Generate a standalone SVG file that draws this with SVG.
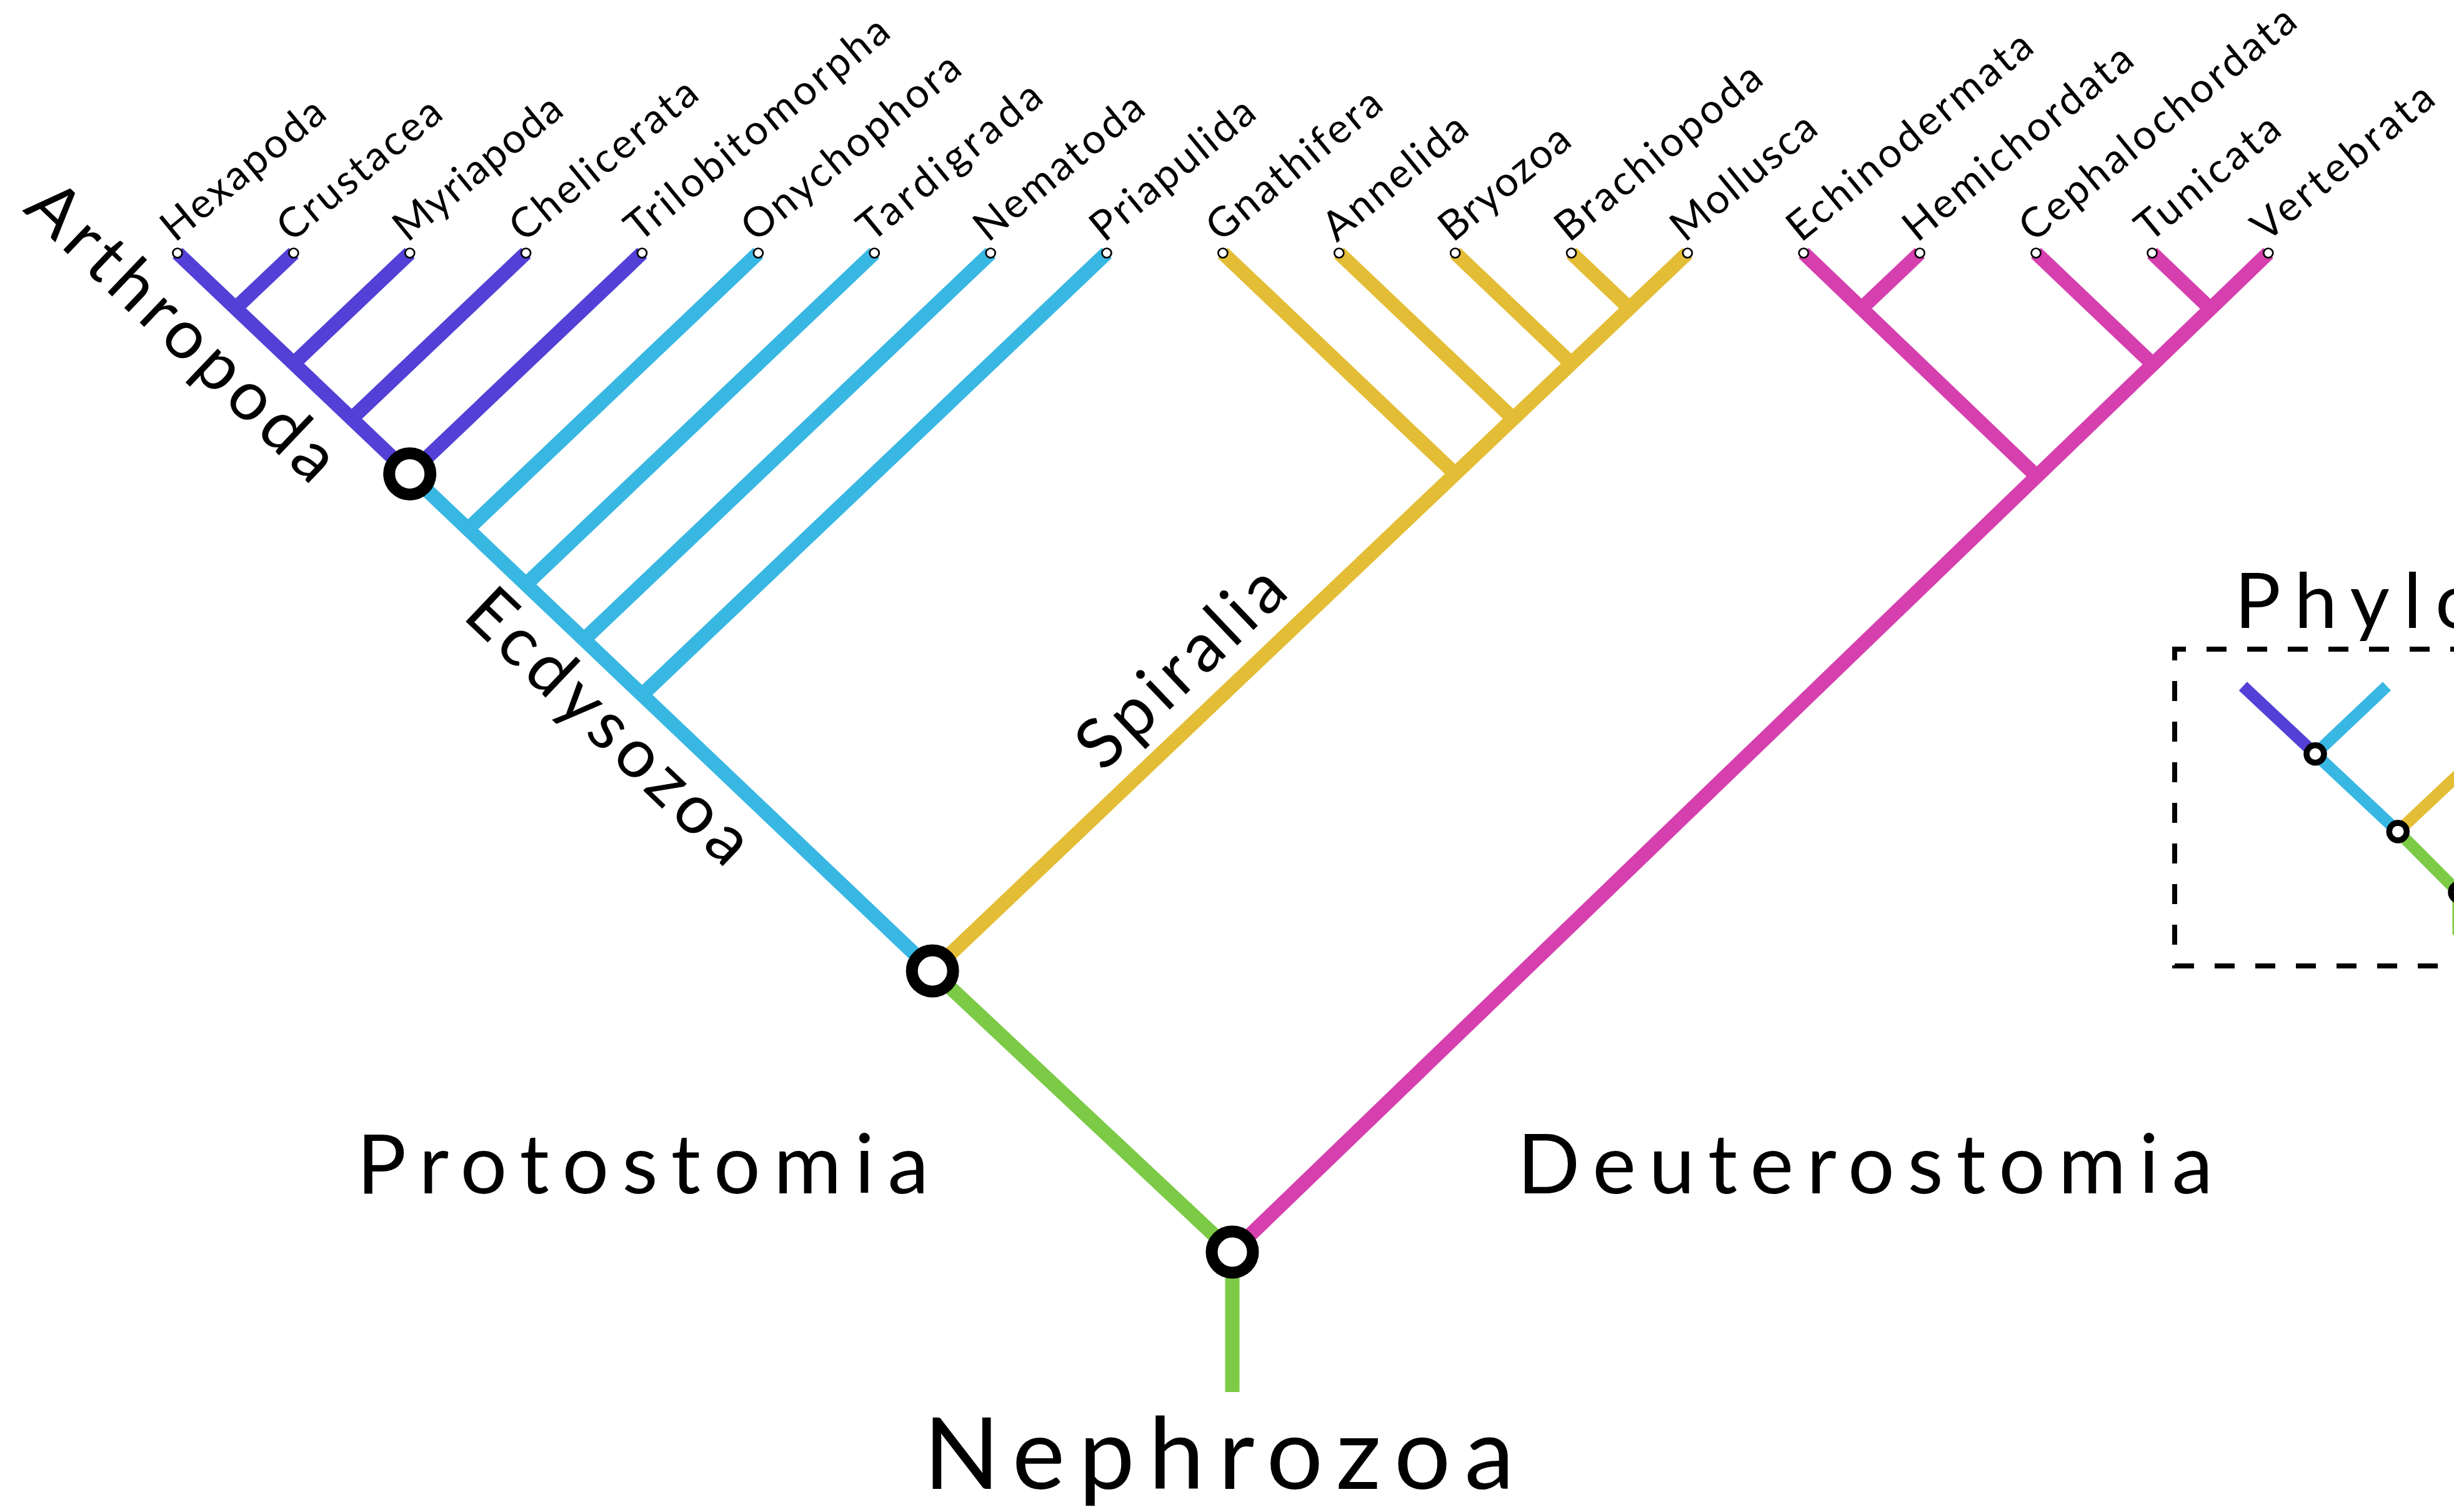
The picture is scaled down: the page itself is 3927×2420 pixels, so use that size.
<svg xmlns="http://www.w3.org/2000/svg" width="3927" height="2420" viewBox="0 0 3927 2420">
<style>
.br{fill:none;stroke-width:23;stroke-linecap:butt;stroke-linejoin:round}
.ib{fill:none;stroke-width:19;stroke-linecap:butt;stroke-linejoin:round}
.pu{stroke:#5340D6}.cy{stroke:#38B7E3}.ye{stroke:#E3BD35}.ma{stroke:#D63FAE}.gr{stroke:#7CCA45}
.tip{fill:#fff;stroke:#000;stroke-width:2.7}
.node{fill:#fff;stroke:#000;stroke-width:19}
.inode{fill:#fff;stroke:#000;stroke-width:9.5}
text{font-family:Lato,"Liberation Sans",sans-serif;fill:#000}
.leaf{font-size:66px}
.clade{font-size:110px}
.big{font-size:132px}
.root{font-size:160px}
</style>
<rect width="3927" height="2420" fill="#fff"/>
<g id="connectors">
  <line class="br pu" x1="284" y1="405" x2="655.75" y2="758.5"/>
  <line class="br pu" x1="469.9" y1="405" x2="376.95" y2="493.4"/>
  <line class="br pu" x1="655.8" y1="405" x2="469.9" y2="581.8"/>
  <line class="br pu" x1="841.6" y1="405" x2="562.8" y2="670.1"/>
  <line class="br pu" x1="1027.5" y1="405" x2="655.75" y2="758.5"/>
  <line class="br cy" x1="655.75" y1="758.5" x2="1492.2" y2="1554"/>
  <line class="br cy" x1="1213.4" y1="405" x2="748.7" y2="846.9"/>
  <line class="br cy" x1="1399.3" y1="405" x2="841.65" y2="935.3"/>
  <line class="br cy" x1="1585.2" y1="405" x2="934.6" y2="1023.7"/>
  <line class="br cy" x1="1771" y1="405" x2="1027.5" y2="1112.1"/>
  <line class="br ye" x1="2700.4" y1="405" x2="1492.2" y2="1554"/>
  <line class="br ye" x1="1956.9" y1="405" x2="2328.7" y2="758.5"/>
  <line class="br ye" x1="2142.8" y1="405" x2="2421.6" y2="670.1"/>
  <line class="br ye" x1="2328.7" y1="405" x2="2514.6" y2="581.8"/>
  <line class="br ye" x1="2514.6" y1="405" x2="2607.5" y2="493.4"/>
  <line class="br gr" x1="1492.2" y1="1554" x2="1972" y2="2004"/>
  <line class="br gr" x1="1972" y1="2004" x2="1972" y2="2228"/>
  <line class="br ma" x1="3629.8" y1="405" x2="1972" y2="2004"/>
  <line class="br ma" x1="2886.3" y1="405" x2="3260" y2="763"/>
  <line class="br ma" x1="3072.2" y1="405" x2="2979.25" y2="493.4"/>
  <line class="br ma" x1="3258.1" y1="405" x2="3445" y2="583"/>
  <line class="br ma" x1="3444" y1="405" x2="3537" y2="494"/>
</g>
<g id="node-Arthropoda"><circle class="node" cx="655.75" cy="758.5" r="33"/>
  <text class="clade" text-anchor="middle" textLength="640" lengthAdjust="spacing" x="0" y="38" transform="translate(293,530) rotate(43.6)">Arthropoda</text></g>
<g id="node-Ecdysozoa"><text class="clade" text-anchor="middle" textLength="585" lengthAdjust="spacing" x="0" y="38" transform="translate(976,1162) rotate(43.6)">Ecdysozoa</text></g>
<g id="node-Spiralia"><text class="clade" text-anchor="middle" textLength="415" lengthAdjust="spacing" x="0" y="38" transform="translate(1889,1067) rotate(-43.6)">Spiralia</text></g>
<g id="node-Protostomia"><circle class="node" cx="1492.2" cy="1554" r="33"/>
  <text class="big" x="571" y="1910" textLength="915" lengthAdjust="spacing">Protostomia</text></g>
<g id="node-Deuterostomia"><text class="big" x="2428" y="1910" textLength="1113" lengthAdjust="spacing">Deuterostomia</text></g>
<g id="node-Nephrozoa"><circle class="node" cx="1972" cy="2004" r="33"/>
  <text class="root" x="1478" y="2383" textLength="945" lengthAdjust="spacing">Nephrozoa</text></g>
<g id="leaves">
  <g id="leaf-Hexapoda"><circle class="tip" cx="284" cy="405" r="7.5"/><text class="leaf" textLength="318" lengthAdjust="spacing" transform="translate(280,389) rotate(-39.3)">Hexapoda</text></g>
  <g id="leaf-Crustacea"><circle class="tip" cx="469.9" cy="405" r="7.5"/><text class="leaf" textLength="318" lengthAdjust="spacing" transform="translate(466,389) rotate(-39.3)">Crustacea</text></g>
  <g id="leaf-Myriapoda"><circle class="tip" cx="655.8" cy="405" r="7.5"/><text class="leaf" textLength="327" lengthAdjust="spacing" transform="translate(652,389) rotate(-39.3)">Myriapoda</text></g>
  <g id="leaf-Chelicerata"><circle class="tip" cx="841.6" cy="405" r="7.5"/><text class="leaf" textLength="367" lengthAdjust="spacing" transform="translate(838,389) rotate(-39.3)">Chelicerata</text></g>
  <g id="leaf-Trilobitomorpha"><circle class="tip" cx="1027.5" cy="405" r="7.5"/><text class="leaf" textLength="524" lengthAdjust="spacing" transform="translate(1023,389) rotate(-39.3)">Trilobitomorpha</text></g>
  <g id="leaf-Onychophora"><circle class="tip" cx="1213.4" cy="405" r="7.5"/><text class="leaf" textLength="431" lengthAdjust="spacing" transform="translate(1209,389) rotate(-39.3)">Onychophora</text></g>
  <g id="leaf-Tardigrada"><circle class="tip" cx="1399.3" cy="405" r="7.5"/><text class="leaf" textLength="359" lengthAdjust="spacing" transform="translate(1395,389) rotate(-39.3)">Tardigrada</text></g>
  <g id="leaf-Nematoda"><circle class="tip" cx="1585.2" cy="405" r="7.5"/><text class="leaf" textLength="330" lengthAdjust="spacing" transform="translate(1581,389) rotate(-39.3)">Nematoda</text></g>
  <g id="leaf-Priapulida"><circle class="tip" cx="1771" cy="405" r="7.5"/><text class="leaf" textLength="319" lengthAdjust="spacing" transform="translate(1767,389) rotate(-39.3)">Priapulida</text></g>
  <g id="leaf-Gnathifera"><circle class="tip" cx="1956.9" cy="405" r="7.5"/><text class="leaf" textLength="341" lengthAdjust="spacing" transform="translate(1953,389) rotate(-39.3)">Gnathifera</text></g>
  <g id="leaf-Annelida"><circle class="tip" cx="2142.8" cy="405" r="7.5"/><text class="leaf" textLength="278" lengthAdjust="spacing" transform="translate(2139,389) rotate(-39.3)">Annelida</text></g>
  <g id="leaf-Bryozoa"><circle class="tip" cx="2328.7" cy="405" r="7.5"/><text class="leaf" textLength="250" lengthAdjust="spacing" transform="translate(2325,389) rotate(-39.3)">Bryozoa</text></g>
  <g id="leaf-Brachiopoda"><circle class="tip" cx="2514.6" cy="405" r="7.5"/><text class="leaf" textLength="406" lengthAdjust="spacing" transform="translate(2511,389) rotate(-39.3)">Brachiopoda</text></g>
  <g id="leaf-Mollusca"><circle class="tip" cx="2700.4" cy="405" r="7.5"/><text class="leaf" textLength="280" lengthAdjust="spacing" transform="translate(2696,389) rotate(-39.3)">Mollusca</text></g>
  <g id="leaf-Echinodermata"><circle class="tip" cx="2886.3" cy="405" r="7.5"/><text class="leaf" textLength="486" lengthAdjust="spacing" transform="translate(2882,389) rotate(-39.3)">Echinodermata</text></g>
  <g id="leaf-Hemichordata"><circle class="tip" cx="3072.2" cy="405" r="7.5"/><text class="leaf" textLength="453" lengthAdjust="spacing" transform="translate(3068,389) rotate(-39.3)">Hemichordata</text></g>
  <g id="leaf-Cephalochordata"><circle class="tip" cx="3258.1" cy="405" r="7.5"/><text class="leaf" textLength="550" lengthAdjust="spacing" transform="translate(3254,389) rotate(-39.3)">Cephalochordata</text></g>
  <g id="leaf-Tunicata"><circle class="tip" cx="3444" cy="405" r="7.5"/><text class="leaf" textLength="277" lengthAdjust="spacing" transform="translate(3440,389) rotate(-39.3)">Tunicata</text></g>
  <g id="leaf-Vertebrata"><circle class="tip" cx="3629.8" cy="405" r="7.5"/><text class="leaf" textLength="355" lengthAdjust="spacing" transform="translate(3626,389) rotate(-39.3)">Vertebrata</text></g>
</g>
<g id="inset">
  <text x="3576" y="1005" font-size="123" letter-spacing="22">Phylo</text>
  <rect x="3480" y="1039" width="600" height="507" fill="none" stroke="#000" stroke-width="8" stroke-dasharray="32 33" stroke-dashoffset="14"/>
  <line class="ib pu" x1="3589.3" y1="1098.2" x2="3705" y2="1206.7"/>
  <line class="ib cy" x1="3705" y1="1206.7" x2="3819.5" y2="1098.2"/>
  <line class="ib cy" x1="3705" y1="1206.7" x2="3837.3" y2="1330.9"/>
  <line class="ib ye" x1="3837.3" y1="1330.9" x2="4037" y2="1143"/>
  <polyline class="ib gr" points="3837.3,1330.9 3934,1428 3934,1496"/>
  <circle class="inode" cx="3705" cy="1206.7" r="14"/>
  <circle class="inode" cx="3837.3" cy="1330.9" r="14"/>
  <circle class="inode" cx="3936" cy="1428" r="14"/>
</g>
</svg>
